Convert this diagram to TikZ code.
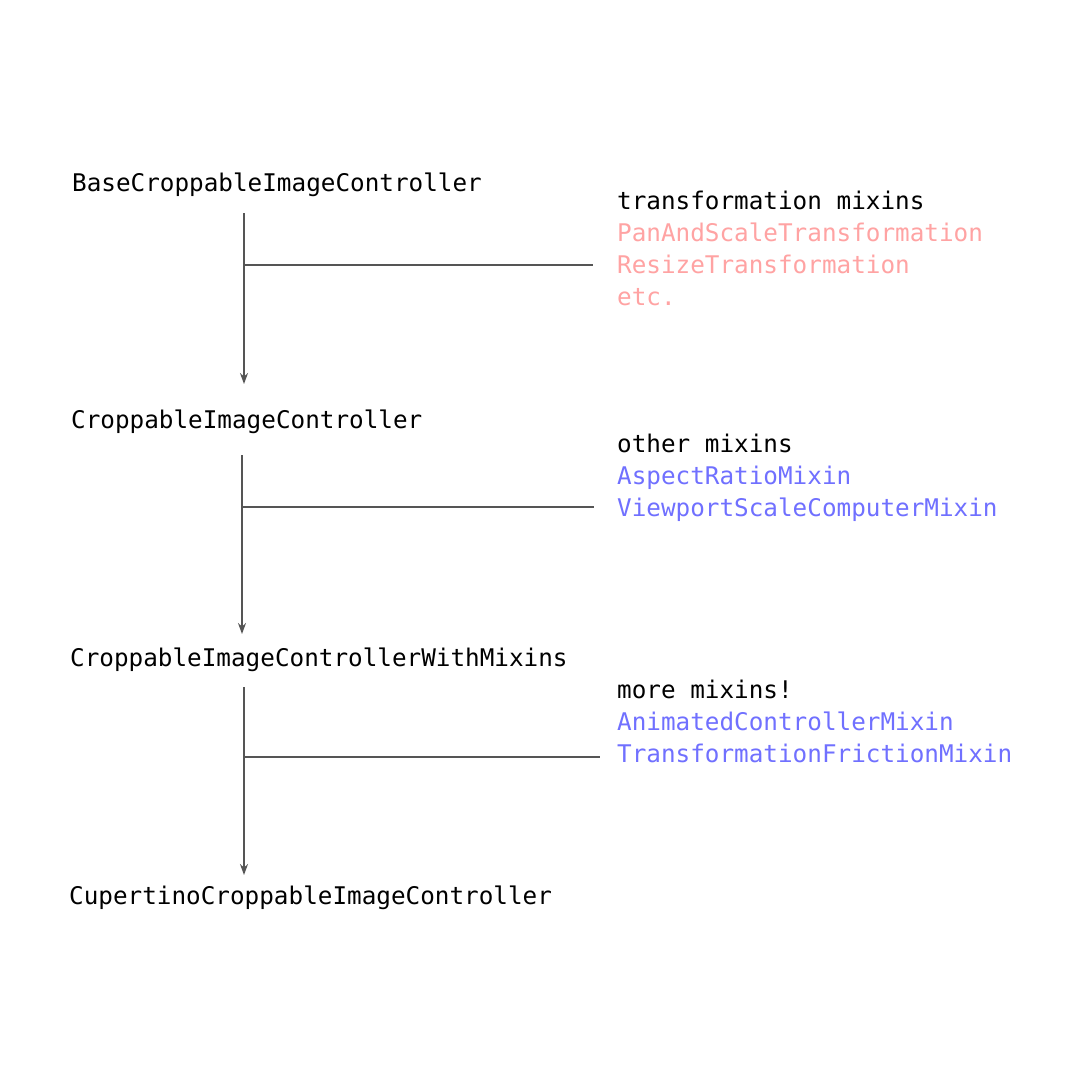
\documentclass[tikz,border=0pt]{standalone}
\usepackage{fontspec}
\setmonofont{DejaVu Sans Mono}
\usetikzlibrary{arrows.meta}
\definecolor{linegray}{HTML}{555555}
\definecolor{mixpink}{HTML}{FFA3A3}
\definecolor{mixblue}{HTML}{7070FF}
\begin{document}
\begin{tikzpicture}[x=1pt,y=-1pt,
  txt/.style={anchor=base west,inner sep=0pt,font=\ttfamily\fontsize{24.3}{30}\selectfont},
  cls/.style={txt,text=black},
  head/.style={txt,text=black},
  pink/.style={txt,text=mixpink},
  blue/.style={txt,text=mixblue},
  inherit/.style={draw=linegray,line width=1.8pt,-{Stealth[length=11pt,width=8pt]}},
  joinline/.style={draw=linegray,line width=1.8pt}]
\useasboundingbox[fill=white] (0,0) rectangle (1080,1080);

% class chain
\node[cls] (base) at (72,191) {BaseCroppableImageController};
\node[cls] (crop) at (71,428) {CroppableImageController};
\node[cls] (withmix) at (70,666) {CroppableImageControllerWithMixins};
\node[cls] (cupertino) at (69,904) {CupertinoCroppableImageController};

% mixin groups
\node[head] (h1) at (617,209) {transformation mixins};
\node[pink] (p1) at (617,241) {PanAndScaleTransformation};
\node[pink] (p2) at (617,273) {ResizeTransformation};
\node[pink] (p3) at (617,305) {etc.};

\node[head] (h2) at (617,452) {other mixins};
\node[blue] (b1) at (617,484) {AspectRatioMixin};
\node[blue] (b2) at (617,516) {ViewportScaleComputerMixin};

\node[head] (h3) at (617,698) {more mixins!};
\node[blue] (b3) at (617,730) {AnimatedControllerMixin};
\node[blue] (b4) at (617,762) {TransformationFrictionMixin};

% connector end points
\coordinate (s1) at (244,213);
\coordinate (e1) at (244,384);
\coordinate (j1) at (244,265);
\coordinate (m1) at (593,265);

\coordinate (s2) at (242,455);
\coordinate (e2) at (242,634);
\coordinate (j2) at (242,507);
\coordinate (m2) at (594,507);

\coordinate (s3) at (244,687);
\coordinate (e3) at (244,875);
\coordinate (j3) at (244,757);
\coordinate (m3) at (600,757);

\draw[inherit] (s1) -- (e1);
\draw[joinline] (j1) -- (m1);
\draw[inherit] (s2) -- (e2);
\draw[joinline] (j2) -- (m2);
\draw[inherit] (s3) -- (e3);
\draw[joinline] (j3) -- (m3);
\end{tikzpicture}
\end{document}
